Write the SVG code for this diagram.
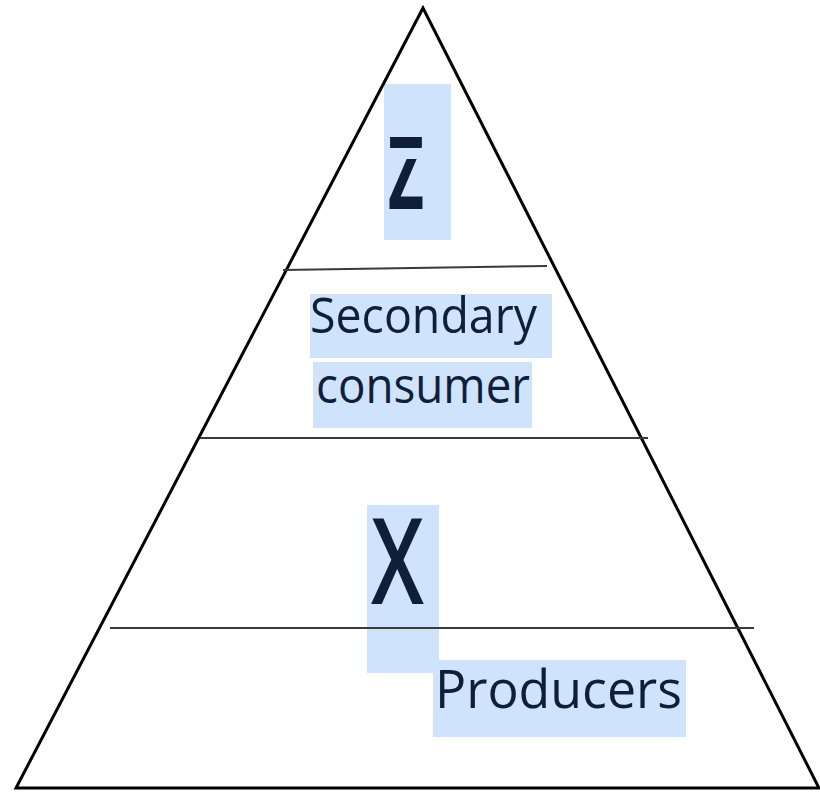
<svg xmlns="http://www.w3.org/2000/svg" width="820" height="792" viewBox="0 0 820 792">
  <style>
    .hl { fill: #cfe3fc; }
    .lbl { font-family: "Open Sans", "Noto Sans", sans-serif; fill: #0f1f3a; }
    .tier { stroke: #3a3a3a; stroke-width: 2; fill: none; }
    .outline { stroke: #000; stroke-width: 3; fill: none; stroke-linejoin: miter; }
  </style>
  <defs>
    <clipPath id="zclip">
      <rect x="370" y="80" width="90" height="68"/>
      <rect x="370" y="159" width="90" height="80"/>
    </clipPath>
  </defs>
  <rect width="820" height="792" fill="#fff"/>

  <!-- label highlights -->
  <g id="top-tier">
    <rect class="hl" x="384" y="84" width="67" height="156"/>
    <text class="lbl" x="388" y="209" font-size="100" font-weight="700" textLength="36" lengthAdjust="spacingAndGlyphs" clip-path="url(#zclip)">Z</text>
  </g>
  <g id="secondary-tier">
    <rect class="hl" x="310" y="294" width="242" height="64"/>
    <rect class="hl" x="313" y="362" width="219" height="66"/>
    <text class="lbl" x="310" y="333" font-size="50" textLength="227" lengthAdjust="spacingAndGlyphs">Secondary</text>
    <text class="lbl" x="316" y="403" font-size="50" textLength="214" lengthAdjust="spacingAndGlyphs">consumer</text>
  </g>
  <g id="primary-tier">
    <rect class="hl" x="367" y="505" width="72" height="168"/>
    <text class="lbl" x="371" y="604" font-size="119" font-weight="600" textLength="53" lengthAdjust="spacingAndGlyphs">X</text>
  </g>
  <g id="producer-tier">
    <rect class="hl" x="433" y="660" width="253" height="77"/>
    <text class="lbl" x="435" y="708" font-size="53" textLength="247" lengthAdjust="spacingAndGlyphs">Producers</text>
  </g>

  <!-- pyramid outline and tier dividers -->
  <g id="pyramid">
    <polygon class="outline" points="423,8 16,788 819,788"/>
    <line class="tier" x1="283" y1="270" x2="547" y2="266"/>
    <line class="tier" x1="200" y1="438" x2="648" y2="438"/>
    <line class="tier" x1="110" y1="628" x2="754" y2="628"/>
  </g>
</svg>
